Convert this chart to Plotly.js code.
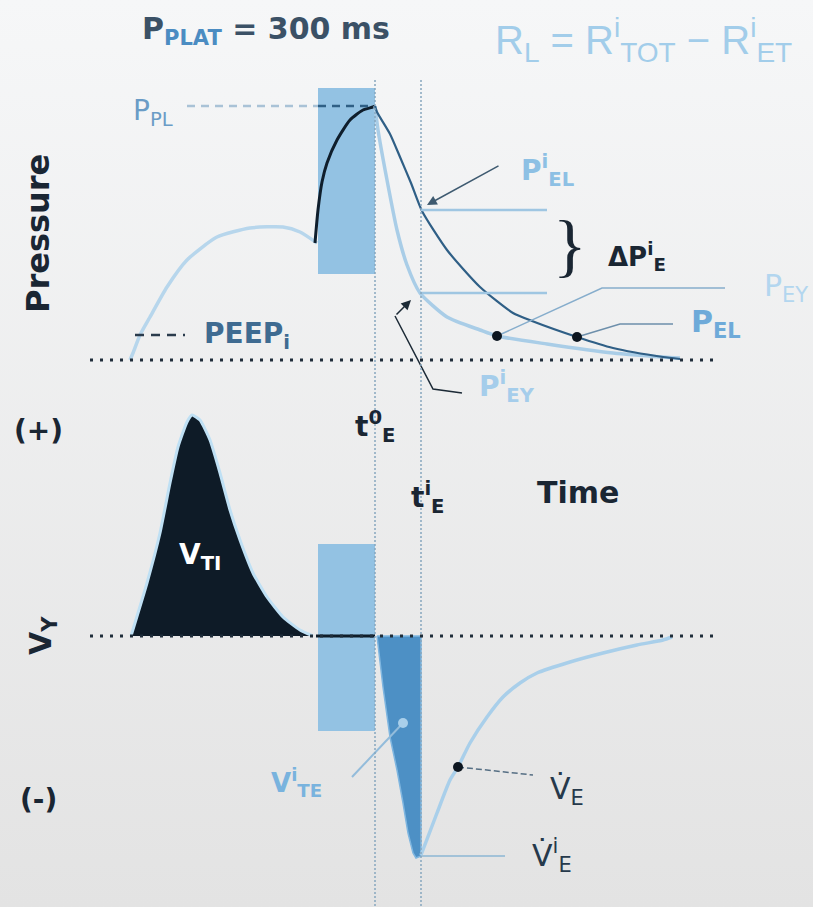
<!DOCTYPE html>
<html><head><meta charset="utf-8">
<script src="https://cdn.plot.ly/plotly-3.0.1.min.js"></script>
<style>html,body{margin:0;padding:0;background:#eeeff0}#chart{width:813px;height:907px}</style>
</head><body><div id="chart"></div>
<script>
// Time in arbitrary units. Pressure is measured above the PEEP baseline,
// flow above (inspiration) / below (expiration) the zero-flow line.
const t0E = 375;   // start of expiration (occlusion released)
const tiE = 421;   // end of the interrupter window

// Inspiratory airway pressure
const inspT = [130, 133, 140, 150, 167, 187, 217, 250, 283, 300, 317];
const inspP = [0, 7, 25, 43, 73, 100, 123, 132, 133, 128, 117];
// Pressure rise during the end-inspiratory pause
const holdT = [315, 318, 322, 327, 337, 350, 363, 373, 375];
const holdP = [117, 150, 178, 197, 220, 240, 250, 253, 254];
// Expiratory decay of alveolar pressure (P_EL)
const pelT = [375, 377, 390, 400, 411, 422, 447, 480, 513, 532, 577, 613, 663, 680];
const pelP = [254, 248, 226, 203, 177, 149, 110, 73, 47, 39, 23, 12, 3, 1];
// Expiratory decay of airway pressure (P_EY)
const peyT = [375, 378, 387, 397, 407, 420, 447, 480, 497, 547, 613, 663, 680];
const peyP = [254, 230, 180, 130, 95, 67, 43, 30, 24, 16, 7, 3, 2];

// Inspiratory flow (V_TI area)
const vtiT = [131, 147, 160, 170, 178, 187, 192, 200, 210, 220, 230, 240, 253, 267, 283, 300, 313];
const vtiF = [0, 53, 103, 153, 189, 214, 221, 216, 196, 163, 126, 96, 63, 39, 19, 6, 0];
// Expired volume during the interrupter window (V^i_TE)
const vteT = [377, 383, 390, 397, 403, 408, 413, 416, 421, 421, 377];
const vteF = [0, -51, -101, -134, -167, -197, -217, -222, -220, 0, 0];
// Expiratory flow after release
const expT = [421, 437, 450, 458, 470, 487, 503, 520, 537, 570, 603, 637, 663, 672];
const expF = [-219, -177, -144, -131, -107, -81, -61, -47, -37, -26, -17, -9, -4, -1];

// Occlusion window (pressure and flow panels)
const holdBoxT = [318, 375];
const holdBoxP = [86, 272];
const holdBoxF = [-95, 92];

// Marked points
const pPL = 254;          // plateau pressure
const peepI = 25;         // intrinsic PEEP
const pElI = 150;         // P^i_EL at tiE
const pEyI = 67;          // P^i_EY at tiE
const pelDot = [577, 23];
const peyDot = [497, 24];
const flowDot = [458, -131];
const vteDot = [403, -87];
const flowPeak = -220;    // V'^i_E

const PX = 360;           // pressure-axis offset of the page top
const FX = 636;           // flow-axis offset of the page top
const yP = py => PX - py; // page row -> pressure units
const F = 'DejaVu Sans';
const DARK = '#1a2633';

const traces = [];
// page background
traces.push({x: [0, 813, 813, 0, 0], y: [yP(0), yP(0), yP(907), yP(907), yP(0)],
  mode: 'lines', line: {width: 0}, fill: 'toself', fillcolor: '#eeeff0',
  fillgradient: {type: 'vertical', colorscale: [[0, '#e3e3e3'], [1, '#f6f7f8']]},
  hoverinfo: 'skip', showlegend: false});
// occlusion boxes
const box = (t, v, ax) => ({x: [t[0], t[1], t[1], t[0], t[0]], y: [v[0], v[0], v[1], v[1], v[0]],
  yaxis: ax, mode: 'lines', line: {width: 0}, fill: 'toself', fillcolor: '#93c2e3',
  hoverinfo: 'skip', showlegend: false});
traces.push(box(holdBoxT, holdBoxP, 'y'));
traces.push(box(holdBoxT, holdBoxF, 'y2'));

const line = (x, y, ax, color, width, extra) => Object.assign({x, y, yaxis: ax, mode: 'lines',
  line: {color, width, shape: 'spline', smoothing: 0.6}, hoverinfo: 'skip', showlegend: false}, extra || {});

// pressure curves
traces.push(line(inspT, inspP, 'y', '#b7d6ec', 3.5));
traces.push(line(holdT, holdP, 'y', '#0f1e2c', 3));
traces.push(line(peyT, peyP, 'y', '#a9cde7', 3.5));
traces.push(line(pelT, pelP, 'y', '#2f5f86', 2.2));
// plateau and PEEPi markers
traces.push(line([187, holdBoxT[0]], [pPL, pPL], 'y', '#a9c2d6', 2, {line: {color: '#a9c2d6', width: 2.5, dash: '8px,6px'}}));
traces.push(line([holdBoxT[0], t0E - 3], [pPL, pPL], 'y', '#2f5f85', 2, {line: {color: '#2f5f85', width: 2.5, dash: '8px,6px'}}));
traces.push(line([135, 185], [peepI, peepI], 'y', '#2a3b4c', 2, {line: {color: '#2a3b4c', width: 2.5, dash: '9px,7px'}}));
// interrupter levels
traces.push(line([tiE, 547], [pElI, pElI], 'y', '#9fc6e2', 2.5, {line: {color: '#9fc6e2', width: 2.5}}));
traces.push(line([tiE, 547], [pEyI, pEyI], 'y', '#9fc6e2', 2.5, {line: {color: '#9fc6e2', width: 2.5}}));
// leaders to P_EY and P_EL
traces.push({x: [peyDot[0], 602, 725], y: [peyDot[1], yP(288), yP(288)], mode: 'lines',
  line: {color: '#86adcc', width: 1.5}, hoverinfo: 'skip', showlegend: false});
traces.push({x: [pelDot[0], 620, 673], y: [pelDot[1], yP(324), yP(324)], mode: 'lines',
  line: {color: '#6d8fab', width: 1.5}, hoverinfo: 'skip', showlegend: false});
// leader to P^i_EY
traces.push({x: [462, 433, 395], y: [yP(393), yP(389), yP(316)], mode: 'lines',
  line: {color: '#1c2a36', width: 1.5}, hoverinfo: 'skip', showlegend: false});
traces.push({x: [pelDot[0], peyDot[0]], y: [pelDot[1], peyDot[1]], mode: 'markers',
  marker: {color: '#0d1620', size: 10}, hoverinfo: 'skip', showlegend: false});

// flow: inspiratory area
traces.push({x: vtiT, y: vtiF, yaxis: 'y2', mode: 'lines', fill: 'toself', fillcolor: '#0e1b27',
  line: {color: '#bfe0f4', width: 3, shape: 'spline', smoothing: 0.5}, hoverinfo: 'skip', showlegend: false});
// flow: expired volume in the window
traces.push({x: vteT, y: vteF, yaxis: 'y2', mode: 'lines', fill: 'toself', fillcolor: '#4d90c5',
  line: {color: '#7fb6e0', width: 1.5}, hoverinfo: 'skip', showlegend: false});
traces.push(line(expT, expF, 'y2', '#a9cfea', 3.5));
traces.push({x: [holdBoxT[0] - 2, t0E], y: [0, 0], yaxis: 'y2', mode: 'lines',
  line: {color: '#0f1d2a', width: 3}, hoverinfo: 'skip', showlegend: false});
traces.push({x: [tiE, 505], y: [flowPeak, flowPeak], yaxis: 'y2', mode: 'lines',
  line: {color: '#a2c2d8', width: 2}, hoverinfo: 'skip', showlegend: false});
traces.push({x: [352, vteDot[0]], y: [-141, vteDot[1]], yaxis: 'y2', mode: 'lines',
  line: {color: '#93bcdb', width: 2}, hoverinfo: 'skip', showlegend: false});
traces.push({x: [vteDot[0]], y: [vteDot[1]], yaxis: 'y2', mode: 'markers',
  marker: {color: '#a9cfea', size: 10}, hoverinfo: 'skip', showlegend: false});
traces.push({x: [flowDot[0], 533], y: [flowDot[1], -139], yaxis: 'y2', mode: 'lines',
  line: {color: '#566f84', width: 1.5, dash: '6px,3px'}, hoverinfo: 'skip', showlegend: false});
traces.push({x: [flowDot[0]], y: [flowDot[1]], yaxis: 'y2', mode: 'markers',
  marker: {color: '#0d1620', size: 10}, hoverinfo: 'skip', showlegend: false});

const shapes = [
  {type: 'line', xref: 'x', yref: 'y', x0: t0E, x1: t0E, y0: yP(80), y1: yP(907),
   line: {color: '#86a6bf', width: 1.5, dash: '2px,2px'}},
  {type: 'line', xref: 'x', yref: 'y', x0: tiE, x1: tiE, y0: yP(80), y1: yP(907),
   line: {color: '#86a6bf', width: 1.5, dash: '2px,2px'}},
  {type: 'line', xref: 'x', yref: 'y', x0: 90, x1: 718, y0: 0, y1: 0,
   line: {color: '#1f2d3a', width: 3, dash: '3px,7px'}},
  {type: 'line', xref: 'x', yref: 'y2', x0: 90, x1: 717, y0: 0, y1: 0,
   line: {color: '#1f2d3a', width: 3, dash: '3px,7px'}}
];

const lab = (text, x, py, size, color, opts) => Object.assign({
  text, x, y: yP(py), xref: 'x', yref: 'y', showarrow: false, xanchor: 'center', yanchor: 'middle',
  font: {family: F, size, color, weight: 700}}, opts || {});
const norm = (size, color, family) => ({font: {family: family || F, size, color, weight: 400}});

const annotations = [
  lab('P<sub><span style="color:#4b8cc2">PLAT</span></sub> = 300 ms', 266, 30, 30, '#3b5166'),
  lab('R<sub>L</sub> = R<sup>i</sup><sub>TOT</sub> − R<sup>i</sup><sub>ET</sub>', 643, 40, 40, '#a2cdea',
      norm(40, '#a2cdea', 'Liberation Sans')),
  lab('Pressure', 38, 234, 32, DARK, {textangle: -90}),
  lab('(+)', 38, 430, 28, DARK),
  lab('(-)', 38, 799, 28, DARK),
  lab('V<sub>Y</sub>', 42, 636, 30, DARK, {textangle: -90}),
  lab('t<sup>0</sup><sub>E</sub>', 375, 426, 28, DARK),
  lab('t<sup>i</sup><sub>E</sub>', 428, 497, 28, DARK),
  lab('Time', 578, 492, 30, DARK),
  lab('P<sub>PL</sub>', 153, 112, 28, '#6a9cc6', norm(28, '#6a9cc6')),
  lab('PEEP<sub>i</sub>', 247, 335, 28, '#3f6b91'),
  lab('P<sup>i</sup><sub>EL</sub>', 547, 170, 28, '#8dc0e4'),
  lab('ΔP<sup>i</sup><sub>E</sub>', 637, 256, 26, DARK),
  lab('}', 570, 245, 70, DARK, norm(70, DARK, 'Liberation Serif')),
  lab('P<sub>EY</sub>', 786, 287, 30, '#b3d6ef', norm(30, '#b3d6ef')),
  lab('P<sub>EL</sub>', 716, 323, 30, '#6eaad9'),
  lab('P<sup>i</sup><sub>EY</sub>', 507, 386, 28, '#a5cdeb'),
  lab('V<sup>i</sup><sub>TE</sub>', 296, 782, 26, '#79b3de'),
  lab('V\u0307<sub>E</sub>', 567, 790, 30, '#26394b', norm(30, '#26394b')),
  lab('V\u0307<sup>i</sup><sub>E</sub>', 552, 855, 30, '#26394b', norm(30, '#26394b')),
  lab('V<sub>TI</sub>', 200, 556, 28, '#ffffff'),
  // arrows
  {x: 427, y: yP(205), ax: 500, ay: yP(165), xref: 'x', yref: 'y', axref: 'x', ayref: 'y',
   showarrow: true, arrowhead: 2, arrowsize: 1.3, arrowwidth: 1.5, arrowcolor: '#3e5a70', text: ''},
  {x: 411, y: yP(300), ax: 395, ay: yP(316), xref: 'x', yref: 'y', axref: 'x', ayref: 'y',
   showarrow: true, arrowhead: 2, arrowsize: 1.3, arrowwidth: 1.5, arrowcolor: '#1c2a36', text: ''}
];

const layout = {
  width: 813, height: 907, margin: {l: 0, r: 0, t: 0, b: 0},
  paper_bgcolor: '#eeeff0', plot_bgcolor: 'rgba(0,0,0,0)', showlegend: false,
  xaxis: {range: [0, 813], visible: false, fixedrange: true},
  yaxis: {range: [PX - 907, PX], visible: false, fixedrange: true},
  yaxis2: {range: [FX - 907, FX], visible: false, fixedrange: true, overlaying: 'y'},
  shapes, annotations
};
Plotly.newPlot('chart', traces, layout, {displayModeBar: false, staticPlot: true});
</script></body></html>
